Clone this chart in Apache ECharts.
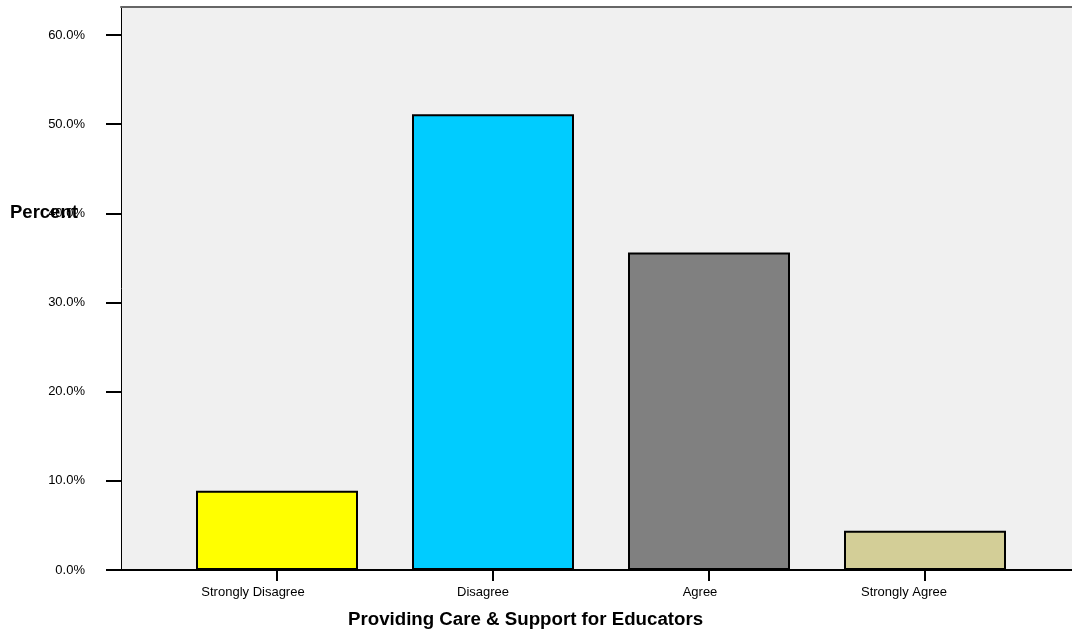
<!DOCTYPE html>
<html>
<head>
<meta charset="utf-8">
<script src="https://cdn.jsdelivr.net/npm/echarts@6/dist/echarts.min.js"></script>
<style>
html,body{margin:0;padding:0;background:#fff;}
#chart{width:1072px;height:632px;}
</style>
</head>
<body>
<div id="chart"></div>
<script>
// ---- data ----
const categories = ['Strongly Disagree', 'Disagree', 'Agree', 'Strongly Agree'];
const percents = [8.9, 51.1, 35.6, 4.4];
const yTicks = [0, 10, 20, 30, 40, 50, 60];
const yAxisTitle = 'Percent';
const xAxisTitle = 'Providing Care & Support for Educators';

// ---- styles ----
const barColors = ['#ffff00', '#00ccff', '#808080', '#d3ce97'];
const labelShift = [48, 20, 18, 42]; // right padding to mimic label placement

const chart = echarts.init(document.getElementById('chart'), null, {renderer: 'canvas'});
const FONT = 'Liberation Sans, Arial, sans-serif';

chart.setOption({
  animation: false,
  backgroundColor: '#ffffff',
  title: [
    {text: yAxisTitle, left: 10, top: 203, padding: 0,
     textStyle: {fontFamily: FONT, fontSize: 18.5, fontWeight: 'bold', color: '#000'}},
    {text: xAxisTitle, left: 348, top: 610, padding: 0,
     textStyle: {fontFamily: FONT, fontSize: 18.7, fontWeight: 'bold', color: '#000'}}
  ],
  grid: [
    {left: 121, right: -6, top: 7, bottom: 62, show: true, backgroundColor: '#f0f0f0',
     borderWidth: 0},
    {left: 169, right: 39, top: 35, bottom: 62}
  ],
  xAxis: [
    {type: 'value', gridIndex: 0, min: 0, max: 1, show: true, position: 'bottom',
     axisLine: {show: true, onZero: false, lineStyle: {color: '#000', width: 2}},
     axisTick: {show: false}, axisLabel: {show: false}, splitLine: {show: false}},
    {type: 'category', gridIndex: 1, data: categories.map((c, i) => ({
        value: c, textStyle: {padding: [0, labelShift[i], 0, 0]}})),
     axisLine: {show: false},
     axisTick: {show: true, alignWithLabel: true, length: 11, lineStyle: {color: '#000', width: 2}},
     axisLabel: {fontFamily: FONT, fontSize: 13, color: '#000', margin: 16, interval: 0},
     splitLine: {show: false}},
    {type: 'value', gridIndex: 0, min: 0, max: 1, show: true, position: 'top',
     axisLine: {show: true, onZero: false, lineStyle: {color: '#666', width: 2}},
     axisTick: {show: false}, axisLabel: {show: false}, splitLine: {show: false}}
  ],
  yAxis: [
    {type: 'value', gridIndex: 0, min: 0, max: 1, show: true, position: 'left',
     axisLine: {show: true, onZero: false, lineStyle: {color: '#000', width: 1}},
     axisTick: {show: false}, axisLabel: {show: false}, splitLine: {show: false}},
    {type: 'value', gridIndex: 1, min: yTicks[0], max: yTicks[yTicks.length - 1], interval: 10,
     offset: 48,
     axisLine: {show: false},
     axisTick: {show: true, length: 15, lineStyle: {color: '#000', width: 2}},
     axisLabel: {fontFamily: FONT, fontSize: 13, color: '#000', margin: 36,
                 formatter: v => v.toFixed(1) + '%'},
     splitLine: {show: false}}
  ],
  series: [{
    type: 'bar',
    xAxisIndex: 1, yAxisIndex: 1,
    barWidth: '75%',
    data: percents.map((v, i) => ({value: v,
      itemStyle: {color: barColors[i], borderColor: '#000', borderWidth: 2}}))
  }]
});
</script>
</body>
</html>
